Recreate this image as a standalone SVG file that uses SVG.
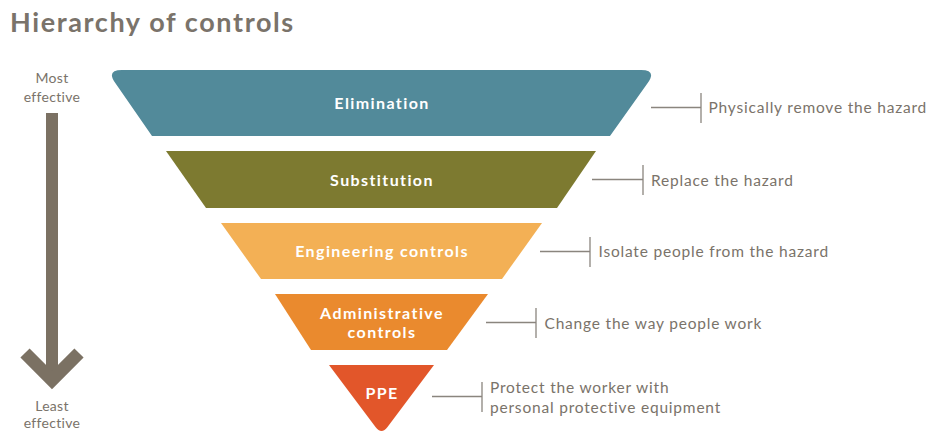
<svg xmlns="http://www.w3.org/2000/svg" width="929" height="432" viewBox="0 0 929 432">
<style>
.title{font-family:Lato,"Open Sans",sans-serif;font-size:27px;font-weight:bold;letter-spacing:1.6px;fill:#7a736a}
.side{font-family:Lato,"Open Sans",sans-serif;font-size:14px;letter-spacing:0.3px;fill:#7a736a;text-anchor:middle}
.lbl{font-family:Lato,"Open Sans",sans-serif;font-size:16px;font-weight:bold;letter-spacing:1.4px;fill:#ffffff;text-anchor:middle}
.desc{font-family:Lato,"Open Sans",sans-serif;font-size:15.5px;letter-spacing:0.8px;fill:#7a736a}
.con line{stroke:#8a857e;stroke-width:1.3}
</style>
<rect width="929" height="432" fill="#ffffff"/>
<text class="title" x="10" y="32">Hierarchy of controls</text>
<g id="scale">
<text class="side" x="52" y="83">Most</text>
<text class="side" x="52" y="102">effective</text>
<rect x="46" y="113" width="12" height="262" fill="#7b7163"/>
<polyline points="25,353 52,380 79,353" fill="none" stroke="#7b7163" stroke-width="13" stroke-linejoin="miter"/>
<text class="side" x="52" y="411">Least</text>
<text class="side" x="52" y="428">effective</text>
</g>
<g id="elimination">
<path d="M152 136 L610 136 L647.7 83 Q657 70 641 70 L122 70 Q106 70 115.3 83 Z" fill="#528a9a"/>
<text class="lbl" x="382" y="109">Elimination</text>
</g>
<g id="substitution">
<path d="M166 151 L596 151 L557 208 L206 208 Z" fill="#7d7a30"/>
<text class="lbl" x="382" y="186">Substitution</text>
</g>
<g id="engineering">
<path d="M221 223 L542 223 L502 279 L261 279 Z" fill="#f3b055"/>
<text class="lbl" x="382" y="257">Engineering controls</text>
</g>
<g id="administrative">
<path d="M275 294 L488 294 L447 350 L311 350 Z" fill="#ea8a2e"/>
<text class="lbl" x="382" y="319">Administrative</text>
<text class="lbl" x="382" y="338">controls</text>
</g>
<g id="ppe">
<path d="M329 365 L434 365 L387.5 427 Q381.5 435 375.5 427 Z" fill="#e2562a"/>
<text class="lbl" x="382" y="399">PPE</text>
</g>
<g id="connectors" class="con">
<line x1="651" y1="107.5" x2="701" y2="107.5"/>
<line x1="701" y1="93" x2="701" y2="123"/>
<line x1="592" y1="179.5" x2="643" y2="179.5"/>
<line x1="643" y1="165" x2="643" y2="195"/>
<line x1="540" y1="251.5" x2="590" y2="251.5"/>
<line x1="590" y1="237" x2="590" y2="267"/>
<line x1="486" y1="322.5" x2="536" y2="322.5"/>
<line x1="536" y1="308" x2="536" y2="338"/>
<line x1="432" y1="396.5" x2="482" y2="396.5"/>
<line x1="482" y1="382" x2="482" y2="412"/>
</g>
<g id="descriptions">
<text class="desc" x="708.5" y="113">Physically remove the hazard</text>
<text class="desc" x="651" y="186">Replace the hazard</text>
<text class="desc" x="598.5" y="257">Isolate people from the hazard</text>
<text class="desc" x="544.5" y="329">Change the way people work</text>
<text class="desc" x="490" y="393">Protect the worker with</text>
<text class="desc" x="490" y="412.5">personal protective equipment</text>
</g>
</svg>
